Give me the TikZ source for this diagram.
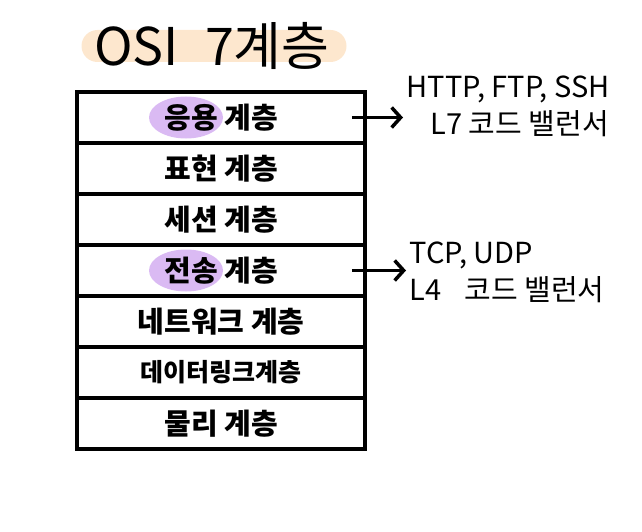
\documentclass[tikz,border=0pt]{standalone}
\usepackage{fontspec}
\setmainfont{Noto Sans CJK KR}
\usetikzlibrary{positioning,arrows.meta,backgrounds,shapes.geometric}

\definecolor{peach}{RGB}{253,231,206}
\definecolor{lilac}{RGB}{218,186,243}

\begin{document}
\begin{tikzpicture}[%
x=1pt, y=-1pt,
>={Straight Barb[length=9pt,width=20pt]},
node distance=51pt,
on grid,
layer/.style={draw, line width=3.5pt, minimum width=288pt, minimum height=51pt,
  inner sep=0pt, font=\fontsize{29}{29}\selectfont\bfseries},
mark hl/.style={fill=lilac, ellipse, minimum width=74pt, minimum height=42pt},
side/.style={align=left, anchor=west, font=\fontsize{29}{37}\selectfont}
]
\useasboundingbox (0,0) rectangle (642,532);

% title
\node[fill=peach, rounded corners=16pt, minimum width=265pt, minimum height=32pt] (titlebg) at (214,46) {};
\node[font=\fontsize{52}{52}\selectfont] (title) at (212,46) {OSI\hspace{0.5em}7계층};

% the seven layers
\node[layer] (app) at (221,117.5) {응용 계층};
\node[layer] (pres) [below of=app] {표현 계층};
\node[layer] (sess) [below of=pres] {세션 계층};
\node[layer] (trans) [below of=sess] {전송 계층};
\node[layer] (net) [below of=trans] {네트워크 계층};
\node[layer, font=\fontsize{25}{25}\selectfont\bfseries] (link) [below of=net] {데이터링크계층};
\node[layer] (phys) [below of=link] {물리 계층};

% highlights
\begin{scope}[on background layer]
\node[mark hl] (apphl) at ([xshift=-35pt]app.center) {};
\node[mark hl] (transhl) at ([xshift=-35pt]trans.center) {};
\end{scope}

% notes on the right
\node[side] (l7) at (403,106) {HTTP, FTP, SSH\\\hspace*{24pt}L7 코드 밸런서};
\node[side] (l4) at (406,272) {TCP, UDP\\L4\hspace{0.8em}코드 밸런서};

\draw[->, line width=3.5pt] ([xshift=-15pt]app.east) -- (app.east -| l7.west);
\draw[->, line width=3.5pt] ([xshift=-15pt]trans.east) -- (trans.east -| l4.west);

\end{tikzpicture}
\end{document}
